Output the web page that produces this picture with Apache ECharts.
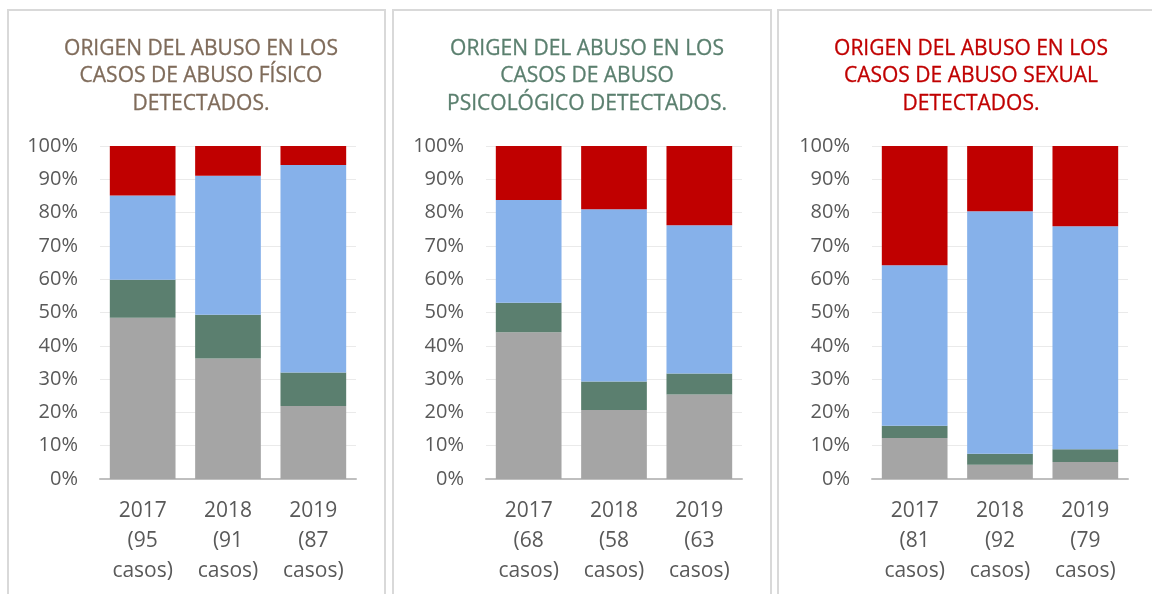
<!DOCTYPE html>
<html>
<head>
<meta charset="utf-8">
<title>Origen del abuso</title>
<script src="https://cdn.jsdelivr.net/npm/echarts@6/dist/echarts.min.js"></script>
<style>
  html, body { margin: 0; padding: 0; background: #fff; }
  #chart { width: 1152px; height: 594px; }
</style>
</head>
<body>
<div id="chart"></div>
<script>
// categorias de cada panel (año y numero de casos)
var years = ["2017", "2018", "2019"];
var casosFisico = [95, 91, 87];
var casosPsico = [68, 58, 63];
var casosSexual = [81, 92, 79];

// porcentajes de cada tramo, de abajo arriba: gris, verde, azul, rojo
var fisicoGris = [48.4, 36.2, 21.9];
var fisicoVerde = [11.4, 13.1, 10.1];
var fisicoAzul = [25.3, 41.8, 62.3];
var fisicoRojo = [14.9, 8.9, 5.7];

var psicoGris = [44.1, 20.7, 25.4];
var psicoVerde = [8.8, 8.6, 6.3];
var psicoAzul = [30.9, 51.7, 44.5];
var psicoRojo = [16.2, 19.0, 23.8];

var sexualGris = [12.3, 4.3, 5.1];
var sexualVerde = [3.7, 3.3, 3.8];
var sexualAzul = [48.2, 72.8, 67.0];
var sexualRojo = [35.8, 19.6, 24.1];

var titulos = [
  "ORIGEN DEL ABUSO EN LOS\nCASOS DE ABUSO FÍSICO\nDETECTADOS.",
  "ORIGEN DEL ABUSO EN LOS\nCASOS DE ABUSO\nPSICOLÓGICO DETECTADOS.",
  "ORIGEN DEL ABUSO EN LOS\nCASOS DE ABUSO SEXUAL\nDETECTADOS."
];
var coloresTitulo = ["#7f6b5a", "#5a7f6e", "#c00000"];
var coloresBarra = ["#a5a5a5", "#5b7f6f", "#86b1ea", "#c00000"];

var paneles = [
  { casos: casosFisico, datos: [fisicoGris, fisicoVerde, fisicoAzul, fisicoRojo] },
  { casos: casosPsico, datos: [psicoGris, psicoVerde, psicoAzul, psicoRojo] },
  { casos: casosSexual, datos: [sexualGris, sexualVerde, sexualAzul, sexualRojo] }
];

var font = "'Open Sans', 'Liberation Sans', sans-serif";
var gridLeft = [100, 486, 872];
var titleCenter = [196, 582, 966];
var boxX = [[8, 385], [393, 771], [778, 1160]];

var chart = echarts.init(document.getElementById("chart"));

var title = [], grid = [], xAxis = [], yAxis = [], series = [], graphic = [];

for (var i = 0; i < 3; i++) {
  var p = paneles[i];

  graphic.push({
    type: "rect",
    shape: { x: boxX[i][0], y: 10, width: boxX[i][1] - boxX[i][0], height: 620 },
    style: { fill: "none", stroke: "#d9d9d9", lineWidth: 2 },
    silent: true
  });

  title.push({
    text: titulos[i],
    left: titleCenter[i],
    top: 30,
    textAlign: "center",
    textStyle: {
      color: coloresTitulo[i],
      fontFamily: font,
      fontSize: 21,
      fontWeight: "normal",
      lineHeight: 27.5,
      textBorderColor: coloresTitulo[i],
      textBorderWidth: 0.3
    }
  });

  grid.push({ left: gridLeft[i], width: 256, top: 146, height: 333 });

  var cats = [];
  for (var k = 0; k < years.length; k++) {
    cats.push(years[k] + "\n(" + p.casos[k] + "\ncasos)");
  }

  xAxis.push({
    type: "category",
    gridIndex: i,
    data: cats,
    axisTick: { show: false },
    axisLine: { show: true, lineStyle: { color: "#bfbfbf", width: 2 } },
    axisLabel: {
      color: "#595959",
      fontFamily: font,
      fontSize: 21,
      lineHeight: 30,
      margin: 17,
      interval: 0
    }
  });

  yAxis.push({
    type: "value",
    gridIndex: i,
    min: 0,
    max: 100,
    interval: 10,
    axisLine: { show: false },
    axisTick: { show: false },
    splitLine: { lineStyle: { color: "#eaeaea", width: 1 } },
    axisLabel: {
      formatter: "{value}%",
      color: "#595959",
      fontFamily: font,
      fontSize: 20,
      margin: 22
    }
  });

  for (var s = 0; s < 4; s++) {
    series.push({
      type: "bar",
      xAxisIndex: i,
      yAxisIndex: i,
      stack: "panel" + i,
      barCategoryGap: "23%",
      data: p.datos[s],
      itemStyle: { color: coloresBarra[s] },
      z: 2
    });
  }
}

chart.setOption({
  backgroundColor: "#ffffff",
  animation: false,
  title: title,
  grid: grid,
  xAxis: xAxis,
  yAxis: yAxis,
  series: series,
  graphic: graphic
});
</script>
</body>
</html>
